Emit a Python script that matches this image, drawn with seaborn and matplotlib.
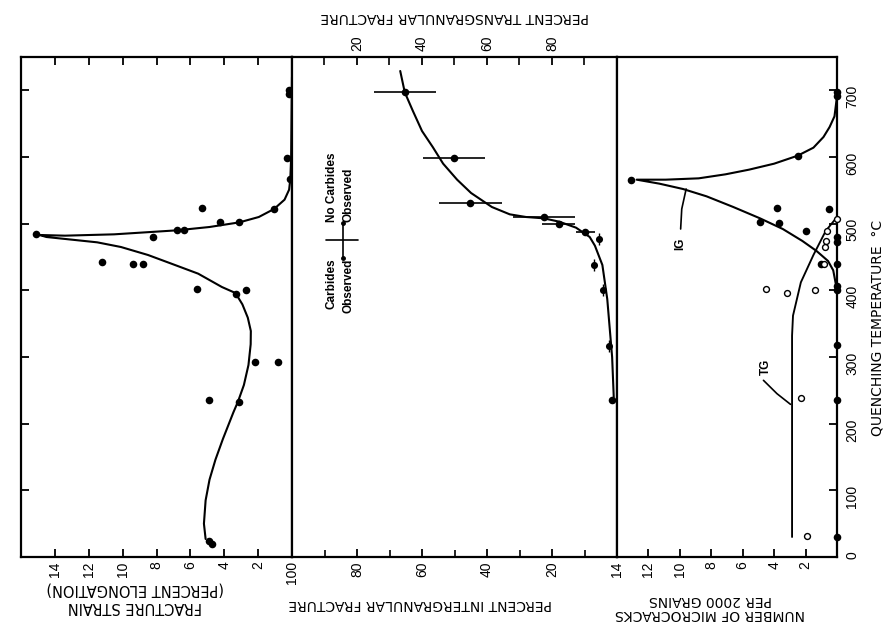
import matplotlib
matplotlib.use("Agg")
import matplotlib.pyplot as plt
import seaborn as sns

# ---------------- data ----------------
temp_ticks = [0, 100, 200, 300, 400, 500, 600, 700]
strain_ticks = [2, 4, 6, 8, 10, 12, 14]
ig_major_ticks = [20, 40, 60, 80, 100]
ig_minor_ticks = [10, 30, 50, 70, 90]
tg_major_ticks = [20, 40, 60, 80]
tg_minor_ticks = [10, 30, 50, 70, 90]
mc_ticks = [2, 4, 6, 8, 10, 12, 14]

# fracture strain (percent elongation) vs quenching temperature
strain_pt_temp = [484, 480, 490, 490, 502, 502, 522, 524, 442, 439, 439, 402, 395, 401,
                  293, 293, 235, 232, 24, 20, 701, 694, 598, 567]
strain_pt_val = [15.1, 8.2, 6.8, 6.4, 4.25, 3.1, 1.06, 5.3, 11.2, 9.4, 8.8, 5.6, 3.3, 2.7,
                 2.2, 0.8, 4.9, 3.1, 4.9, 4.7, 0.2, 0.2, 0.3, 0.1]
strain_fit_temp = [27, 50, 85, 116, 146, 177, 217, 233, 258, 288, 319, 339, 359, 379, 396,
                   405, 425, 440, 453, 465, 472, 476, 480, 483,
                   482, 484, 490, 495, 502, 510, 522, 536, 551, 567, 600, 720]
strain_fit_val = [5.1, 5.2, 5.1, 4.87, 4.52, 4.08, 3.46, 3.19, 2.84, 2.57, 2.44, 2.43, 2.61,
                  2.93, 3.34, 4.14, 5.54, 7.12, 8.5, 10.1, 11.5, 13.0, 14.5, 14.9,
                  13.4, 10.5, 6.8, 4.87, 3.1, 1.96, 1.06, 0.44, 0.17, 0.1, 0.05, 0.0]

# percent intergranular fracture
ig_bar_temp = [697, 599, 531, 510, 500, 488]
ig_bar_val = [65.3, 50.2, 45.1, 22.5, 18.0, 9.7]
ig_bar_err = [9.6, 9.5, 9.7, 9.5, 5.2, 2.8]
ig_carb_temp = [477, 438, 401, 317]
ig_carb_val = [5.6, 7.2, 4.4, 2.5]
ig_plain_temp = [236]
ig_plain_val = [1.5]
ig_fit_temp = [729, 697, 669, 639, 615, 590, 566, 546, 525, 514, 510, 508, 503, 494, 480,
               467, 438, 387, 300, 240]
ig_fit_val = [66.7, 65.3, 62.8, 60.0, 56.7, 53.5, 49.2, 44.9, 38.5, 33.0, 28.0, 22.5, 17.8,
              12.6, 8.4, 6.8, 4.5, 3.0, 1.5, 1.0]

# number of microcracks per 2000 grains
mc_ig_temp = [566, 602, 698, 692, 523, 502, 501, 489, 522, 480, 473, 440, 440, 407, 400, 318, 236, 30]
mc_ig_val = [13.1, 2.5, 0, 0, 3.8, 4.9, 3.7, 2.0, 0.5, 0, 0, 1.0, 0, 0, 0, 0, 0, 0]
mc_tg_temp = [402, 396, 401, 439, 465, 474, 489, 507, 238, 31]
mc_tg_val = [4.55, 3.2, 1.4, 0.8, 0.75, 0.7, 0.65, 0.0, 2.3, 1.9]
mc_igfit_temp = [700, 691, 661, 645, 630, 614, 602, 590, 581, 574, 568, 566, 566,
                 560, 552, 541, 525, 508, 492, 474, 459, 444, 430, 400]
mc_igfit_val = [0.0, 0.0, 0.16, 0.47, 0.86, 1.5, 2.5, 4.0, 5.6, 7.1, 8.8, 10.9, 12.75,
                11.3, 9.8, 8.3, 6.6, 4.9, 3.45, 2.2, 1.3, 0.57, 0.24, 0.0]
mc_tgfit_temp = [30, 229, 332, 362, 412, 453, 489, 507]
mc_tgfit_val = [2.86, 2.86, 2.86, 2.8, 2.3, 1.5, 0.72, 0.1]

# ---------------- style ----------------
sns.set_theme(style="white")
plt.rcParams['font.family'] = ['Liberation Sans Narrow', 'Liberation Sans', 'DejaVu Sans']
LBL = dict(family=['DejaVu Sans'], color='black')
SMALL = dict(family=['Liberation Sans Narrow', 'Liberation Sans', 'DejaVu Sans'],
             fontweight='bold', color='black')

fig = plt.figure(figsize=(8.88, 6.37), dpi=100)
fig.patch.set_facecolor('white')

L, D1, D2, R = 21 / 888, 292 / 888, 617 / 888, 837 / 888
B, TOP = 1 - 557 / 637, 1 - 57 / 637
ax_s = fig.add_axes([L, B, D1 - L, TOP - B])
ax_i = fig.add_axes([D1, B, D2 - D1, TOP - B])
ax_m = fig.add_axes([D2, B, R - D2, TOP - B])

for ax in (ax_s, ax_i, ax_m):
    ax.set_facecolor('white')
    for sp in ax.spines.values():
        sp.set_visible(True)
        sp.set_color('black')
        sp.set_linewidth(1.6)
    ax.set_ylim(0, 750)

LW = 1.5
TL = dict(direction='in', length=6, width=1.3, color='black', labelsize=10, labelcolor='black')

# ---- fracture strain panel ----
ax_s.set_xlim(16, 0)
sns.lineplot(x=strain_fit_val, y=strain_fit_temp, sort=False, estimator=None,
             color='black', linewidth=LW, ax=ax_s)
sns.scatterplot(x=strain_pt_val, y=strain_pt_temp, color='black', s=30, linewidth=0,
                ax=ax_s, clip_on=False, zorder=5)
ax_s.set_xticks(strain_ticks)
ax_s.set_xticklabels([str(v) for v in strain_ticks])
ax_s.set_yticks(temp_ticks)
ax_s.set_yticklabels([])
ax_s.tick_params(axis='x', bottom=True, top=True, labelbottom=True, labeltop=False,
                 labelrotation=90, pad=3, **TL)
ax_s.tick_params(axis='y', left=True, right=False, labelleft=False, **TL)

# ---- intergranular fracture panel ----
ax_i.set_xlim(100, 0)
sns.lineplot(x=ig_fit_val, y=ig_fit_temp, sort=False, estimator=None,
             color='black', linewidth=LW, ax=ax_i)
ax_i.errorbar(ig_bar_val, ig_bar_temp, xerr=ig_bar_err, fmt='none', ecolor='black',
              elinewidth=1.2, capsize=0)
sns.scatterplot(x=ig_bar_val, y=ig_bar_temp, color='black', s=30, linewidth=0, ax=ax_i, zorder=5)
sns.scatterplot(x=ig_carb_val, y=ig_carb_temp, color='black', s=26, linewidth=0, ax=ax_i, zorder=5)
sns.scatterplot(x=ig_carb_val, y=ig_carb_temp, color='black', marker='|', s=70, linewidth=1.0,
                ax=ax_i, zorder=5)
sns.scatterplot(x=ig_plain_val, y=ig_plain_temp, color='black', s=30, linewidth=0, ax=ax_i, zorder=5)
ax_i.set_xticks(ig_major_ticks)
ax_i.set_xticklabels([str(v) for v in ig_major_ticks])
ax_i.set_xticks(ig_minor_ticks, minor=True)
ax_i.set_yticks([])
ax_i.tick_params(axis='x', which='major', bottom=True, top=False, labelrotation=90, pad=3, **TL)
ax_i.tick_params(axis='x', which='minor', bottom=True, top=False, direction='in', length=5,
                 width=1.2, color='black')
ax_t = ax_i.twiny()
ax_t.set_xlim(0, 100)
ax_t.set_xticks(tg_major_ticks)
ax_t.set_xticklabels([str(v) for v in tg_major_ticks])
ax_t.set_xticks(tg_minor_ticks, minor=True)
ax_t.tick_params(axis='x', which='major', top=True, bottom=False, labeltop=True,
                 labelbottom=False, labelrotation=90, pad=4, **TL)
ax_t.tick_params(axis='x', which='minor', top=True, bottom=False, direction='in', length=6,
                 width=1.2, color='black')
for sp in ax_t.spines.values():
    sp.set_visible(False)
ax_t.grid(False)

# carbide legend
ax_i.plot([89.5, 79.6], [475, 475], color='black', lw=1.2)
ax_i.plot([84.2, 84.2], [449, 501], color='black', lw=1.2, marker='o', markersize=2.5,
          markevery=[0, 1])
ax_i.text(85.2, 503, "No Carbides\nObserved", rotation=90, ha='center', va='bottom',
          multialignment='left', fontsize=8.5, linespacing=1.5, **SMALL)
ax_i.text(85.2, 448, "Carbides\nObserved", rotation=90, ha='center', va='top',
          multialignment='right', fontsize=8.5, linespacing=1.5, **SMALL)

# ---- microcrack panel ----
ax_m.set_xlim(14, 0)
sns.lineplot(x=mc_igfit_val, y=mc_igfit_temp, sort=False, estimator=None,
             color='black', linewidth=LW, ax=ax_m)
sns.lineplot(x=mc_tgfit_val, y=mc_tgfit_temp, sort=False, estimator=None,
             color='black', linewidth=LW * 0.9, ax=ax_m)
sns.scatterplot(x=mc_ig_val, y=mc_ig_temp, color='black', s=30, linewidth=0, ax=ax_m,
                clip_on=False, zorder=5)
sns.scatterplot(x=mc_tg_val, y=mc_tg_temp, color='white', edgecolor='black', s=18,
                linewidth=1.0, ax=ax_m, clip_on=False, zorder=5)
ax_m.plot([9.95, 9.88, 9.6], [492, 522, 552], color='black', lw=1.2)
ax_m.text(10.0, 470, "IG", rotation=90, ha='center', va='center', fontsize=8.5, **SMALL)
ax_m.plot([4.68, 3.82, 2.96], [265, 245, 229], color='black', lw=1.2)
ax_m.text(4.5, 285, "TG", rotation=90, ha='center', va='center', fontsize=8.5, **SMALL)
ax_m.set_xticks(mc_ticks)
ax_m.set_xticklabels([str(v) for v in mc_ticks])
ax_m.set_yticks(temp_ticks)
ax_m.set_yticklabels([str(v) for v in temp_ticks])
ax_m.tick_params(axis='x', bottom=True, top=False, labelrotation=90, pad=3, **TL)
ax_m.tick_params(axis='y', left=False, right=True, labelleft=False, labelright=True,
                 labelrotation=90, pad=6, **TL)

for ax in (ax_s, ax_i, ax_m):
    ax.set_xlabel('')
    ax.set_ylabel('')

# ---- axis titles (rotated like the scanned page) ----
fig.text(135 / 888, 1 - 598 / 637, "FRACTURE STRAIN\n(PERCENT ELONGATION)", rotation=180,
         ha='center', va='center', fontsize=10.5, linespacing=1.2, **LBL)
fig.text(420 / 888, 1 - 604 / 637, "PERCENT INTERGRANULAR FRACTURE", rotation=180,
         ha='center', va='center', fontsize=10, **LBL)
fig.text(710 / 888, 1 - 607 / 637, "NUMBER OF MICROCRACKS\nPER 2000 GRAINS", rotation=180,
         ha='center', va='center', fontsize=10, linespacing=1.05, **LBL)
fig.text(455 / 888, 1 - 17 / 637, "PERCENT TRANSGRANULAR FRACTURE", rotation=180,
         ha='center', va='center', fontsize=10, **LBL)
fig.text(877 / 888, 1 - 328 / 637, "QUENCHING TEMPERATURE  \u00b0C", rotation=90,
         ha='center', va='center', fontsize=10, **LBL)

fig.savefig("out.png", dpi=100, facecolor='white')
